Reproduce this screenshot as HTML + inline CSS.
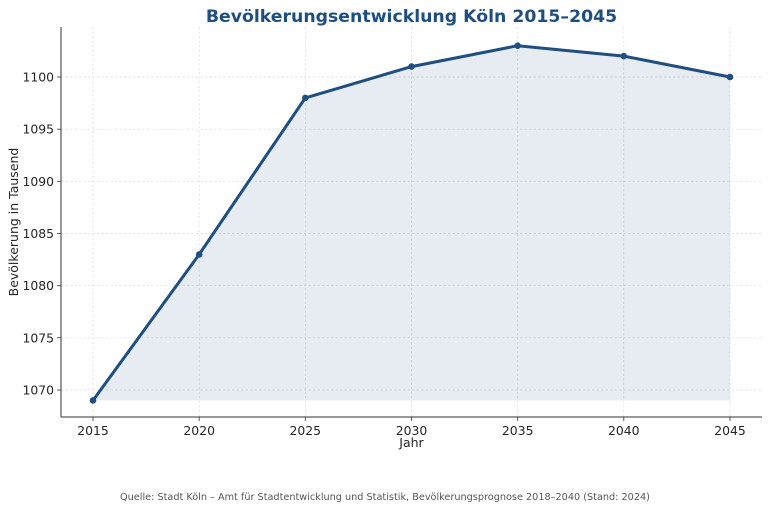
<!DOCTYPE html>
<html><head><meta charset="utf-8"><style>
body{margin:0;background:#fff;}
svg text{font-family:"DejaVu Sans","Liberation Sans",sans-serif;}
</style></head><body>
<svg width="770" height="510" viewBox="0 0 770 510" xmlns="http://www.w3.org/2000/svg">
<g stroke="#dcdcdc" stroke-width="0.7" stroke-dasharray="2.5,2">
<line x1="93" y1="27" x2="93" y2="417"/><line x1="199.2" y1="27" x2="199.2" y2="417"/><line x1="305.3" y1="27" x2="305.3" y2="417"/><line x1="411.5" y1="27" x2="411.5" y2="417"/><line x1="517.7" y1="27" x2="517.7" y2="417"/><line x1="623.8" y1="27" x2="623.8" y2="417"/><line x1="730" y1="27" x2="730" y2="417"/>
<line x1="61" y1="77" x2="762" y2="77"/><line x1="61" y1="129.2" x2="762" y2="129.2"/><line x1="61" y1="181.3" x2="762" y2="181.3"/><line x1="61" y1="233.5" x2="762" y2="233.5"/><line x1="61" y1="285.7" x2="762" y2="285.7"/><line x1="61" y1="337.8" x2="762" y2="337.8"/><line x1="61" y1="390" x2="762" y2="390"/>
</g>
<polygon points="93,400.4 199.2,254.4 305.3,97.9 411.5,66.6 517.7,45.7 623.8,56.1 730,77 730,400.4" fill="#1f4e80" fill-opacity="0.11"/>
<polyline points="93,400.4 199.2,254.4 305.3,97.9 411.5,66.6 517.7,45.7 623.8,56.1 730,77" fill="none" stroke="#1f4e80" stroke-width="3" stroke-linejoin="round"/>
<g fill="#1f4e80"><circle cx="93" cy="400.4" r="3.3"/><circle cx="199.2" cy="254.4" r="3.3"/><circle cx="305.3" cy="97.9" r="3.3"/><circle cx="411.5" cy="66.6" r="3.3"/><circle cx="517.7" cy="45.7" r="3.3"/><circle cx="623.8" cy="56.1" r="3.3"/><circle cx="730" cy="77" r="3.3"/></g>
<g stroke="#333" stroke-width="1"><line x1="61" y1="27" x2="61" y2="417"/><line x1="61" y1="417" x2="762" y2="417"/></g>
<g stroke="#333" stroke-width="0.8">
<line x1="93" y1="417" x2="93" y2="421"/><line x1="199.2" y1="417" x2="199.2" y2="421"/><line x1="305.3" y1="417" x2="305.3" y2="421"/><line x1="411.5" y1="417" x2="411.5" y2="421"/><line x1="517.7" y1="417" x2="517.7" y2="421"/><line x1="623.8" y1="417" x2="623.8" y2="421"/><line x1="730" y1="417" x2="730" y2="421"/>
<line x1="57" y1="77" x2="61" y2="77"/><line x1="57" y1="129.2" x2="61" y2="129.2"/><line x1="57" y1="181.3" x2="61" y2="181.3"/><line x1="57" y1="233.5" x2="61" y2="233.5"/><line x1="57" y1="285.7" x2="61" y2="285.7"/><line x1="57" y1="337.8" x2="61" y2="337.8"/><line x1="57" y1="390" x2="61" y2="390"/>
</g>
<g font-size="12.4" fill="#262626" text-anchor="middle">
<text x="93" y="435">2015</text><text x="199.2" y="435">2020</text><text x="305.3" y="435">2025</text><text x="411.5" y="435">2030</text><text x="517.7" y="435">2035</text><text x="623.8" y="435">2040</text><text x="730" y="435">2045</text>
</g>
<g font-size="12.4" fill="#262626" text-anchor="end">
<text x="54" y="81.5">1100</text><text x="54" y="133.7">1095</text><text x="54" y="185.8">1090</text><text x="54" y="238">1085</text><text x="54" y="290.2">1080</text><text x="54" y="342.3">1075</text><text x="54" y="394.5">1070</text>
</g>
<text x="411.5" y="447" font-size="12.5" fill="#262626" text-anchor="middle">Jahr</text>
<text transform="translate(18,222) rotate(-90)" font-size="12.5" fill="#262626" text-anchor="middle">Bevölkerung in Tausend</text>
<text x="411.5" y="22" font-size="17.3" font-weight="bold" fill="#1f4e80" text-anchor="middle">Bevölkerungsentwicklung Köln 2015–2045</text>
<text x="385" y="500" font-size="9.7" fill="#555" text-anchor="middle">Quelle: Stadt Köln – Amt für Stadtentwicklung und Statistik, Bevölkerungsprognose 2018–2040 (Stand: 2024)</text>
</svg>
</body></html>
